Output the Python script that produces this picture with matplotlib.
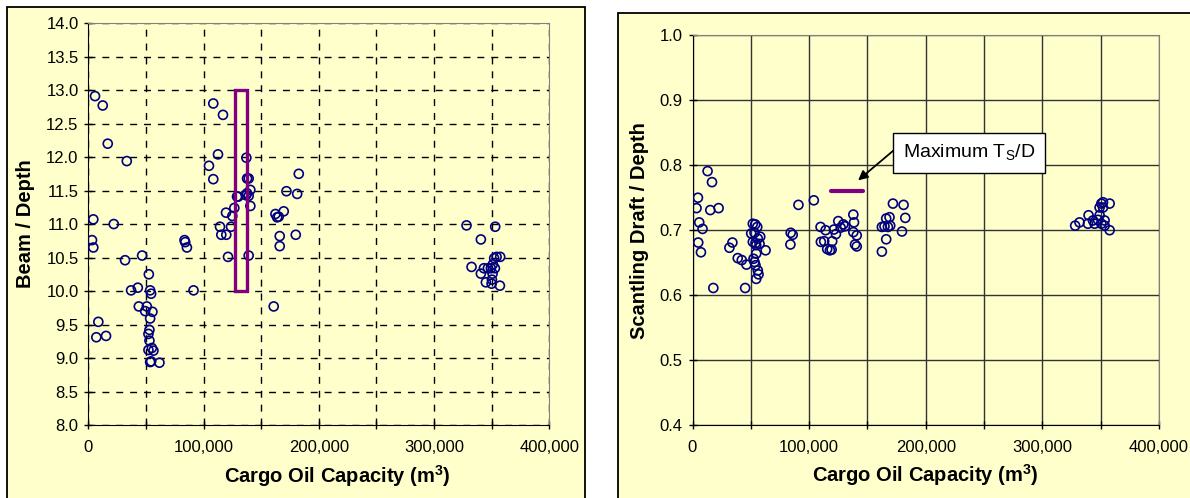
import matplotlib
matplotlib.use("Agg")
import matplotlib.pyplot as plt
from matplotlib.patches import Rectangle
from matplotlib.ticker import FuncFormatter, MultipleLocator

plt.rcParams['font.family'] = ['Liberation Sans', 'DejaVu Sans']
plt.rcParams['mathtext.fontset'] = 'custom'
plt.rcParams['mathtext.rm'] = 'Liberation Sans'
plt.rcParams['mathtext.bf'] = 'Liberation Sans:bold'

# left chart: beam / depth vs cargo oil capacity
cap_bd = [5830, 12520, 16870, 33390, 4350, 22090, 3220, 4350, 31910, 46700,
          52520, 37130, 42960, 53650, 54520, 43830, 50780, 49310, 55650, 53650,
          8700, 6960, 15390, 53050, 52180, 53050, 52180, 55130, 56520, 53650,
          54520, 61740, 83480, 84090, 85570, 91310, 108440, 116870, 112530, 104700,
          108440, 119480, 124960, 126700, 114270, 123830, 115400, 119740, 121220, 129050,
          130180, 137140, 137750, 139140, 140610, 137750, 139140, 136880, 140610, 139140,
          182620, 171920, 181230, 162360, 163830, 165230, 169570, 166100, 166100, 180010,
          160880, 328180, 353050, 340620, 352180, 354270, 357400, 332530, 343230, 346700,
          349310, 352790, 351050, 340620, 350790, 344970, 350190, 349930, 357140]
beam_depth = [12.91, 12.77, 12.20, 11.94, 11.07, 11.00, 10.76, 10.65, 10.46, 10.53,
              10.25, 10.01, 10.05, 10.01, 9.96, 9.77, 9.77, 9.70, 9.69, 9.59,
              9.54, 9.31, 9.33, 9.42, 9.36, 9.26, 9.12, 9.15, 9.11, 8.94,
              8.95, 8.93, 10.76, 10.73, 10.65, 10.01, 12.80, 12.63, 12.04, 11.87,
              11.67, 11.17, 11.12, 11.24, 10.96, 10.96, 10.84, 10.84, 10.51, 11.41,
              11.41, 11.99, 11.68, 11.68, 11.51, 11.46, 11.42, 11.43, 11.27, 10.53,
              11.75, 11.49, 11.45, 11.15, 11.10, 11.11, 11.19, 10.82, 10.67, 10.84,
              9.77, 10.98, 10.96, 10.77, 10.49, 10.51, 10.51, 10.36, 10.34, 10.34,
              10.34, 10.34, 10.40, 10.26, 10.26, 10.13, 10.17, 10.11, 10.08]

# highlighted range on the left chart
box_cap = (127000, 137700)
box_bd = (10.0, 13.0)

# right chart: scantling draft / depth vs cargo oil capacity
cap_td = [12930, 16720, 4660, 3450, 15260, 22410, 5780, 8620, 4910, 7240,
          17840, 90860, 84220, 85950, 83970, 45170, 34220, 31640, 38790, 42240,
          46290, 51720, 53790, 55520, 50340, 53190, 58100, 56030, 51720, 54050,
          54660, 57500, 62670, 54660, 52330, 53190, 54050, 56030, 56640, 54660,
          104050, 109830, 114140, 121290, 123020, 125000, 127070, 130780, 129310, 137930,
          138530, 137930, 140860, 110090, 112930, 119830, 115520, 117840, 119310, 139400,
          140860, 171900, 181030, 168970, 166120, 182500, 162410, 164660, 167590, 169570,
          179660, 166120, 162410, 328190, 331900, 339660, 339140, 343450, 344830, 347760,
          350600, 349140, 352070, 350600, 352070, 357760, 349140, 353450, 353450, 357760]
draft_depth = [0.791, 0.774, 0.750, 0.734, 0.731, 0.734, 0.712, 0.702, 0.681, 0.666,
               0.611, 0.739, 0.696, 0.693, 0.678, 0.611, 0.681, 0.673, 0.657, 0.654,
               0.647, 0.710, 0.709, 0.705, 0.695, 0.696, 0.690, 0.687, 0.682, 0.680,
               0.677, 0.679, 0.669, 0.664, 0.656, 0.651, 0.646, 0.638, 0.632, 0.625,
               0.746, 0.705, 0.700, 0.701, 0.694, 0.714, 0.704, 0.706, 0.709, 0.724,
               0.712, 0.697, 0.692, 0.682, 0.683, 0.683, 0.671, 0.669, 0.670, 0.678,
               0.675, 0.741, 0.739, 0.720, 0.718, 0.719, 0.705, 0.706, 0.705, 0.707,
               0.698, 0.686, 0.667, 0.707, 0.712, 0.723, 0.710, 0.715, 0.710, 0.716,
               0.710, 0.723, 0.735, 0.741, 0.743, 0.741, 0.735, 0.715, 0.707, 0.700]

# maximum Ts/D line
max_cap = [118800, 146500]
max_td = [0.761, 0.761]

yellow = '#FFFFCC'
navy = '#000080'
purple = '#800080'

fig = plt.figure(figsize=(11.9, 4.98), dpi=100)
fig.patch.set_facecolor('white')

# the two chart-area frames
fig.add_artist(Rectangle((7 / 1190, -0.05), 578 / 1190, 0.05 + 491 / 498,
                         transform=fig.transFigure, facecolor=yellow,
                         edgecolor='black', lw=1.3, zorder=0))
fig.add_artist(Rectangle((618 / 1190, -0.05), 0.5, 0.05 + 485 / 498,
                         transform=fig.transFigure, facecolor=yellow,
                         edgecolor='black', lw=1.3, zorder=0))

fmt_cap = FuncFormatter(lambda v, p: '{:,.0f}'.format(v))


def style_axes(ax):
    ax.set_facecolor(yellow)
    for s in ['top', 'right']:
        ax.spines[s].set_color('#808080')
    for s in ['left', 'bottom']:
        ax.spines[s].set_color('black')
    ax.set_xlim(0, 400000)
    ax.xaxis.set_major_locator(MultipleLocator(100000))
    ax.xaxis.set_minor_locator(MultipleLocator(50000))
    ax.xaxis.set_major_formatter(fmt_cap)
    ax.tick_params(axis='both', which='both', direction='inout', length=6,
                   width=1, labelsize=12, pad=4)
    ax.tick_params(axis='x', which='both', pad=8)
    ax.set_xlabel('Cargo Oil Capacity (m$^\\mathbf{3}$)', fontsize=14.5,
                  fontweight='bold', labelpad=6)


# ---- left chart ----
ax1 = fig.add_axes([88.3 / 1190, 73 / 498, 461 / 1190, 401.9 / 498])
style_axes(ax1)
ax1.set_ylim(8, 14)
ax1.yaxis.set_major_locator(MultipleLocator(0.5))
ax1.yaxis.set_major_formatter(FuncFormatter(lambda v, p: '%.1f' % v))
ax1.grid(True, which='both', color='black', linestyle=(0, (5, 5)), lw=1)
ax1.set_axisbelow(True)
ax1.scatter(cap_bd, beam_depth, s=42, facecolors='none', edgecolors=navy,
            linewidths=1.2, zorder=3)
ax1.add_patch(Rectangle((box_cap[0], box_bd[0]), box_cap[1] - box_cap[0],
                        box_bd[1] - box_bd[0], fill=False, edgecolor=purple,
                        lw=2.4, zorder=4))
ax1.set_ylabel('Beam / Depth', fontsize=14.5, fontweight='bold', labelpad=8)
ax1.xaxis.set_label_coords(0.54, -0.095)

# ---- right chart ----
ax2 = fig.add_axes([692.5 / 1190, 73 / 498, 466.4 / 1190, 389.6 / 498])
style_axes(ax2)
ax2.set_ylim(0.4, 1.0)
ax2.yaxis.set_major_locator(MultipleLocator(0.1))
ax2.yaxis.set_major_formatter(FuncFormatter(lambda v, p: '%.1f' % v))
ax2.grid(True, which='both', color='#333333', linestyle='-', lw=1)
ax2.set_axisbelow(True)
ax2.scatter(cap_td, draft_depth, s=42, facecolors='none', edgecolors=navy,
            linewidths=1.2, zorder=3)
ax2.plot(max_cap, max_td, color=purple, lw=3, solid_capstyle='round', zorder=4)
ax2.text(237000, 0.8185, 'Maximum T$_\\mathrm{S}$/D', fontsize=14,
         ha='center', va='center', zorder=6,
         bbox=dict(boxstyle='square,pad=0.5', facecolor='white',
                   edgecolor='black', lw=1))
ax2.annotate('', xy=(140200, 0.774), xytext=(174500, 0.826),
             arrowprops=dict(arrowstyle='-|>', color='black', lw=1.3,
                             mutation_scale=14), zorder=5)
ax2.set_ylabel('Scantling Draft / Depth', fontsize=14.5, fontweight='bold',
               labelpad=8)
ax2.xaxis.set_label_coords(0.5, -0.095)

fig.savefig('out.png', dpi=100, facecolor='white')
